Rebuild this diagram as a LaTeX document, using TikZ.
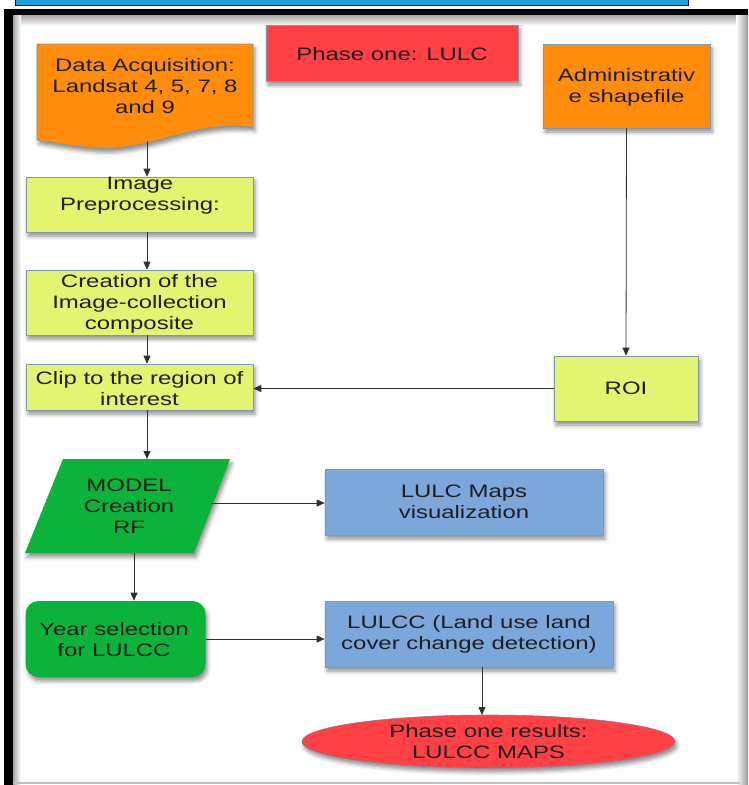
\documentclass[tikz,border=0pt]{standalone}
\usepackage{fontspec}
\setmainfont{Liberation Sans}[FakeStretch=1.33]
\usetikzlibrary{arrows.meta,shapes.geometric,shadows.blur}
\definecolor{orng}{HTML}{FF8C0A}
\definecolor{redb}{HTML}{FF4045}
\definecolor{ygrn}{HTML}{E2F470}
\definecolor{grn}{HTML}{0BB33B}
\definecolor{blu}{HTML}{7BA7DB}
\definecolor{topblue}{HTML}{1AA0E4}
\definecolor{edgec}{HTML}{8096B4}
\definecolor{linec}{HTML}{303030}
\definecolor{txtc}{HTML}{1E1E1E}
\begin{document}
\begin{tikzpicture}[x=1pt,y=-1pt,
  shad/.style={blur shadow={shadow xshift=2pt,shadow yshift=-4pt,shadow blur radius=4pt,shadow opacity=45}},
  box/.style={draw=edgec,line width=0.6pt,shad,inner sep=0pt},
  txt/.style={align=center,text=txtc,font=\fontsize{18}{21}\selectfont,inner sep=0pt},
  arr/.style={draw=linec,line width=0.8pt,-{Triangle[length=8pt,width=7pt]}},
  ln/.style={draw=linec,line width=0.8pt}]
\useasboundingbox (0,0) rectangle (748,785);
% top blue bar
\path[draw=black!70!blue,fill=topblue,line width=1pt] (15,-10) rectangle (688,5);
% frame shading
\shade[top color=black!35,bottom color=white] (13,15) rectangle (740,26);
\shade[left color=black!35,right color=white] (13,15) rectangle (21,785);
\shade[left color=white,right color=black!40] (736,15) rectangle (748,785);
\draw[black!25,line width=2pt] (13,783) -- (740,783);
% black frame
\fill[black] (4,9) rectangle (748,15);
\fill[black] (4,9) rectangle (13,785);

% Phase one box
\node[box,fill=redb,minimum width=252pt,minimum height=56pt] (phase) at (392,53) {};
\node[txt] (phasetxt) at (392,54) {Phase one: LULC};

% data acquisition document
\path[box,fill=orng] (37,44) -- (253,44) -- (253,127)
  .. controls (190,120) and (150,152) .. (95,148)
  .. controls (70,146) and (50,142) .. (37,140) -- cycle;
\node[txt] (acq) at (145,86) {Data Acquisition:\\Landsat 4, 5, 7, 8\\and 9};
\coordinate (acqb) at (147,141);

% administrative
\node[box,fill=orng,minimum width=167pt,minimum height=84pt] (admin) at (626.5,86) {};
\node[txt] (admintxt) at (626.5,87) {Administrativ\\e shapefile};

% preprocessing
\node[box,fill=ygrn,minimum width=227pt,minimum height=55pt] (prep) at (139.5,204.5) {};
\node[txt] (preptxt) at (140,195.5) {Image\\Preprocessing:};

% creation
\node[box,fill=ygrn,minimum width=227pt,minimum height=65pt] (crea) at (139.5,302.5) {};
\node[txt] (creatxt) at (139.5,303.5) {Creation of the\\Image-collection\\composite};

% clip
\node[box,fill=ygrn,minimum width=227pt,minimum height=46pt] (clip) at (139.5,387) {};
\node[txt] (cliptxt) at (139.5,388.5) {Clip to the region of\\interest};

% ROI
\node[box,fill=ygrn,minimum width=144pt,minimum height=65pt] (roi) at (626,388.5) {};
\node[txt] (roitxt) at (626,388.5) {ROI};

% model parallelogram
\path[box,draw=none,fill=grn] (63,459) -- (230,459) -- (194,553) -- (25,553) -- cycle;
\node[txt] (model) at (129,506.5) {MODEL\\Creation\\RF};
\coordinate (mtop) at (147,459);
\coordinate (mbot) at (134,553);
\coordinate (mright) at (211,503);

% LULC maps
\node[box,fill=blu,minimum width=278pt,minimum height=66pt] (maps) at (464,502) {};
\node[txt] (mapstxt) at (464,502) {LULC Maps\\visualization};

% year selection
\node[box,draw=none,fill=grn,rounded corners=13pt,minimum width=180pt,minimum height=76pt] (year) at (115.5,639) {};
\node[txt] (yeartxt) at (114,639.5) {Year selection\\for LULCC};

% LULCC
\node[box,fill=blu,minimum width=288pt,minimum height=66pt] (lulcc) at (469,634) {};
\node[txt] (lulcctxt) at (469,634) {LULCC (Land use land\\cover change detection)};

% results ellipse
\node[box,ellipse,draw=edgec!80!red,fill=redb,minimum width=373pt,minimum height=53pt] (res) at (488.5,741.5) {};
\node[txt] (restxt) at (488.5,742) {Phase one results:\\LULCC MAPS};
\coordinate (lb) at (482,667);

% connectors
\draw[arr] (acqb) -- (acqb |- prep.north);
\draw[arr] (acqb |- prep.south) -- (acqb |- crea.north);
\draw[arr] (acqb |- crea.south) -- (acqb |- clip.north);
\draw[arr] (acqb |- clip.south) -- (mtop);
\draw[arr] (admin.south) -- (roi.north);
\draw[arr] (roi.west) -- (roi.west -| clip.east);
\draw[arr] (mright) -- (mright -| maps.west);
\draw[arr] (mbot) -- (mbot |- year.north);
\draw[arr] (year.east) -- (year.east -| lulcc.west);
\draw[arr] (lb) -- ($(lb)+(0,48)$);
\end{tikzpicture}
\end{document}
